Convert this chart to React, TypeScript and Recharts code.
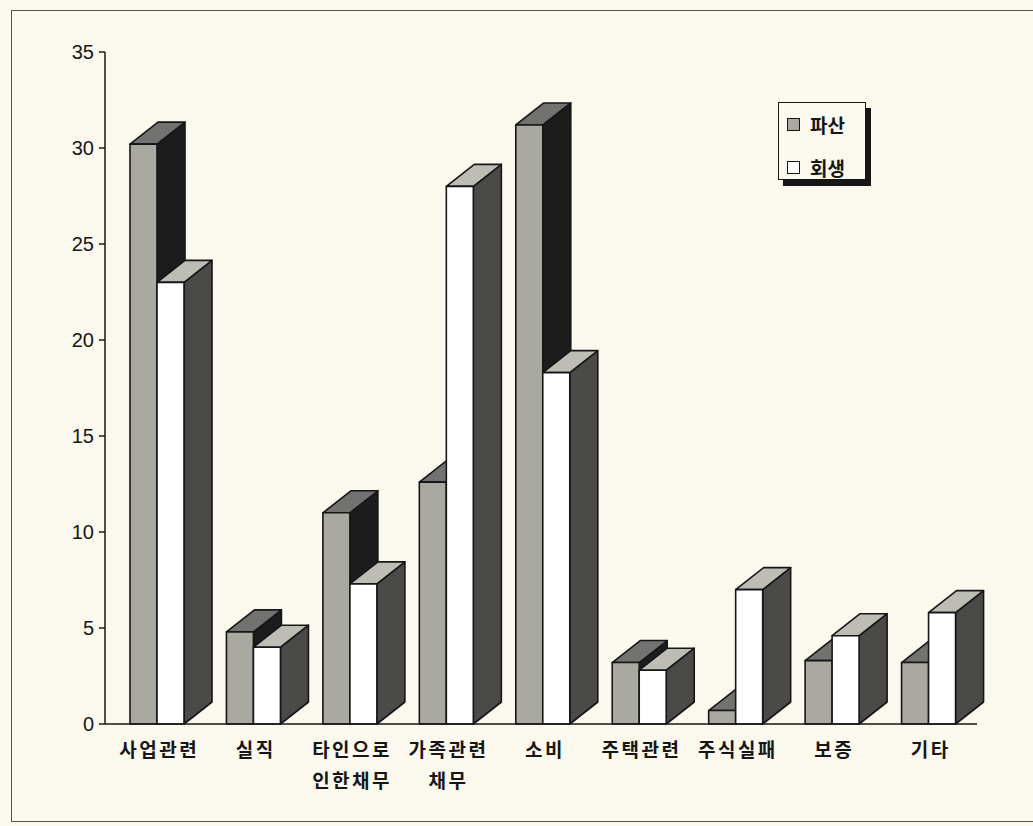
import { BarChart, Bar, XAxis, YAxis, Legend } from "recharts";

const categories = [
  "사업관련",
  "실직",
  "타인으로\n인한채무",
  "가족관련\n채무",
  "소비",
  "주택관련",
  "주식실패",
  "보증",
  "기타",
];
const bankruptcy = [30.2, 4.8, 11.0, 12.6, 31.2, 3.2, 0.7, 3.3, 3.2];
const rehabilitation = [23.0, 4.0, 7.3, 28.0, 18.3, 2.8, 7.0, 4.6, 5.8];
const yTicks = [0, 5, 10, 15, 20, 25, 30, 35];

const data = categories.map((name, i) => ({
  name,
  파산: bankruptcy[i],
  회생: rehabilitation[i],
}));

const DX = 28;
const DY = 22;
const BG = "#fbf9ee";
const INK = "#161616";

// 3D column: front face, top face and right side face
function make3D(front: string, top: string, side: string) {
  return (props: any) => {
    const { x, y, width: w, height: h } = props;
    if (w == null || h == null) return <g />;
    const topPts = `${x},${y} ${x + DX},${y - DY} ${x + w + DX},${y - DY} ${x + w},${y}`;
    const sidePts = `${x + w},${y} ${x + w + DX},${y - DY} ${x + w + DX},${y + h - DY} ${x + w},${y + h}`;
    return (
      <g stroke={INK} strokeWidth={1.6} strokeLinejoin="round">
        <polygon points={sidePts} fill={side} />
        <polygon points={topPts} fill={top} />
        <rect x={x} y={y} width={w} height={h} fill={front} />
      </g>
    );
  };
}

function CategoryTick({ x, y, payload }: any) {
  const lines = String(payload.value).split("\n");
  return (
    <text
      x={x}
      y={y}
      textAnchor="middle"
      fill={INK}
      fontSize={19}
      fontWeight={700}
      letterSpacing={2.5}
      fontFamily="'Noto Sans CJK KR', sans-serif"
    >
      {lines.map((l, i) => (
        <tspan key={i} x={x + 2} dy={i === 0 ? 25 : 31}>
          {l}
        </tspan>
      ))}
    </text>
  );
}

function LegendBox() {
  const items = [
    { label: "파산", fill: "#a9a9a2" },
    { label: "회생", fill: "#ffffff" },
  ];
  return (
    <div
      style={{
        width: 88,
        height: 78,
        boxSizing: "border-box",
        border: `1.5px solid ${INK}`,
        background: BG,
        boxShadow: `5px 6px 0 ${INK}`,
        padding: "10px 0 0 8px",
      }}
    >
      {items.map((it) => (
        <div
          key={it.label}
          style={{
            display: "flex",
            alignItems: "center",
            height: 22,
            marginBottom: 21,
            fontFamily: "'Noto Sans CJK KR', sans-serif",
            fontSize: 19,
            fontWeight: 700,
            color: INK,
          }}
        >
          <span
            style={{
              display: "inline-block",
              width: 11,
              height: 11,
              border: `1.5px solid ${INK}`,
              background: it.fill,
              marginRight: 10,
            }}
          />
          {it.label}
        </div>
      ))}
    </div>
  );
}

export default function App() {
  return (
    <div
      style={{
        position: "absolute",
        left: 0,
        top: 0,
        width: 1033,
        height: 826,
        background: BG,
      }}
    >
      <div
        style={{
          position: "absolute",
          left: 11,
          top: 10,
          width: 1040,
          height: 810,
          borderLeft: "1.5px solid #555",
          borderTop: "1.5px solid #555",
          borderBottom: "1.5px solid #555",
        }}
      />
      <div style={{ position: "absolute", left: 0, top: 0 }}>
        <BarChart
          width={1033}
          height={826}
          data={data}
          margin={{ top: 52, right: 56, bottom: 0, left: 0 }}
          barGap={0}
          barSize={27}
        >
          <XAxis
            dataKey="name"
            height={102}
            padding={{ left: 4, right: 0 }}
            tickLine={false}
            axisLine={{ stroke: INK, strokeWidth: 1.5 }}
            tick={<CategoryTick />}
            interval={0}
          />
          <XAxis
            xAxisId="top"
            orientation="top"
            dataKey="name"
            height={0}
            tick={false}
            tickLine={false}
            axisLine={{ stroke: INK, strokeWidth: 1.5 }}
          />
          <YAxis
            width={105}
            domain={[0, 35]}
            ticks={yTicks}
            interval={0}
            tickSize={6}
            tickMargin={5}
            tickLine={{ stroke: INK, strokeWidth: 1.5 }}
            axisLine={{ stroke: INK, strokeWidth: 1.5 }}
            tick={{
              fill: INK,
              fontSize: 20,
              fontFamily: "'Liberation Sans', Arial, sans-serif",
            }}
          />
          <YAxis
            yAxisId="right"
            orientation="right"
            width={0}
            domain={[0, 35]}
            tick={false}
            tickLine={false}
            axisLine={{ stroke: INK, strokeWidth: 1.5 }}
          />
          <Legend
            layout="horizontal"
            verticalAlign="middle"
            align="center"
            content={() => <LegendBox />}
            wrapperStyle={{ left: 778, top: 102, width: 88, height: 78 }}
          />
          <Bar
            dataKey="파산"
            fill="#a9a9a2"
            shape={make3D("#a9a9a2", "#727270", "#1c1c1c")}
            isAnimationActive={false}
          />
          <Bar
            dataKey="회생"
            fill="#ffffff"
            shape={make3D("#ffffff", "#bdbdb6", "#4a4a48")}
            isAnimationActive={false}
          />
        </BarChart>
      </div>
    </div>
  );
}
